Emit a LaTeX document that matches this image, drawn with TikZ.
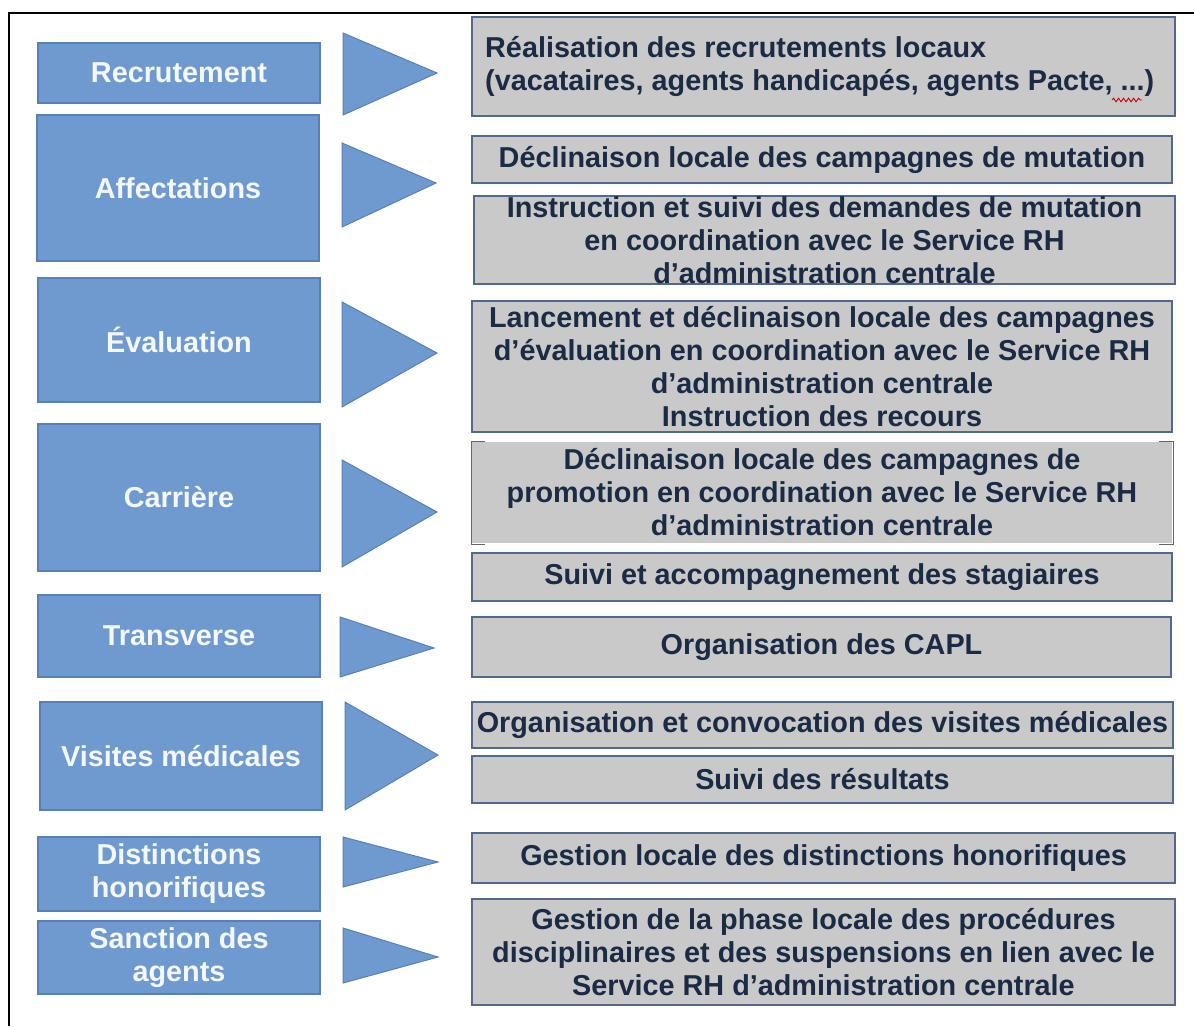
\documentclass[tikz,border=0pt]{standalone}
\usepackage{fontspec}
\setmainfont{Liberation Sans}
\usetikzlibrary{decorations.pathmorphing}
\definecolor{lfill}{RGB}{111,154,208}
\definecolor{ledge}{RGB}{88,128,184}
\definecolor{rfill}{RGB}{201,201,201}
\definecolor{redge}{RGB}{82,104,140}
\definecolor{rtext}{RGB}{28,43,69}
\definecolor{ltext}{RGB}{244,247,252}
\tikzset{
  lbox/.style={draw=ledge, fill=lfill, line width=1.5pt, inner sep=0pt, text=ltext,
    align=center, minimum width=282pt,
    font=\fontsize{28.8}{33}\selectfont\bfseries},
  rbox/.style={draw=redge, fill=rfill, line width=2pt, inner sep=0pt, text=rtext,
    align=center, font=\fontsize{28.8}{33}\selectfont\bfseries},
  rtxt/.style={inner sep=0pt, text=rtext, align=left, font=\fontsize{28.8}{33}\selectfont\bfseries},
  tri/.style={draw=ledge, fill=lfill, line width=1pt, line join=miter},
  frame/.style={draw=black, line width=1.5pt}
}
\begin{document}
\begin{tikzpicture}[x=1pt,y=-1pt]
\useasboundingbox (0,0) rectangle (1194,1026);
\fill[white] (0,0) rectangle (1194,1026);
\coordinate (fa) at (9,1026);
\coordinate (fb) at (9,13);
\coordinate (fc) at (1194,13);
\draw[frame] (fa) -- (fb) -- (fc);

% left boxes
\node[lbox, minimum height=60pt]  (l1) at (179,73)    {Recrutement};
\node[lbox, minimum height=146pt] (l2) at (178,188)   {Affectations};
\node[lbox, minimum height=124pt] (l3) at (179,340)   {Évaluation};
\node[lbox, minimum height=147pt] (l4) at (179,497.5) {Carrière};
\node[lbox, minimum height=82pt]  (l5) at (179,636)   {Transverse};
\node[lbox, minimum height=108pt] (l6) at (181,756)   {Visites médicales};
\node[lbox, minimum height=74pt]  (l7) at (179,874)   {Distinctions\\honorifiques};
\node[lbox, minimum height=73pt]  (l8) at (179,957.5) {Sanction des\\agents};

% triangles
\draw[tri] (343,33) -- (437,73) -- (343,115) -- cycle;
\draw[tri] (342,143) -- (436,183) -- (342,227) -- cycle;
\draw[tri] (342,302) -- (437,353) -- (342,407) -- cycle;
\draw[tri] (342,460) -- (437,512) -- (342,567) -- cycle;
\draw[tri] (340,617) -- (434,648) -- (340,677) -- cycle;
\draw[tri] (345,702) -- (438,755) -- (345,810) -- cycle;
\draw[tri] (343,837) -- (438,862) -- (343,887) -- cycle;
\draw[tri] (343,928) -- (438,957) -- (343,983) -- cycle;

% right boxes
\node[rbox, minimum width=703pt, minimum height=99pt] (r1) at (823.5,66.5) {};
\node[rtxt, anchor=west] (r1t) at ([xshift=14pt]r1.west)
  {Réalisation des recrutements locaux\\(vacataires, agents handicapés, agents Pacte, ...)};
\node[rbox, minimum width=700pt, minimum height=47pt] (r2) at (822,159.5)
  {Déclinaison locale des campagnes de mutation};
\node[rbox, minimum width=701pt, minimum height=88pt] (r3) at (824.5,240)
  {Instruction et suivi des demandes de mutation\\en coordination avec le Service RH\\d'administration centrale};
\node[rbox, minimum width=700pt, minimum height=131pt] (r4) at (822,366.5)
  {Lancement et déclinaison locale des campagnes\\d'évaluation en coordination avec le Service RH\\d'administration centrale\\Instruction des recours};
\node[rbox, draw=none, minimum width=700pt, minimum height=101pt] (r5) at (822,492.5)
  {Déclinaison locale des campagnes de\\promotion en coordination avec le Service RH\\d'administration centrale};
\draw[line width=1pt, draw=black!60] ([xshift=14pt]r5.north west) -- (r5.north west) -- (r5.south west) -- ([xshift=14pt]r5.south west);
\draw[line width=1pt, draw=black!60] ([xshift=-14pt]r5.north east) -- (r5.north east) -- (r5.south east) -- ([xshift=-14pt]r5.south east);
\node[rbox, minimum width=700pt, minimum height=48pt] (r6) at (822,577)
  {Suivi et accompagnement des stagiaires};
\node[rbox, minimum width=699pt, minimum height=60pt] (r7) at (821.5,647)
  {Organisation des CAPL};
\node[rbox, minimum width=701pt, minimum height=46pt] (r8) at (822.5,725)
  {Organisation et convocation des visites médicales};
\node[rbox, minimum width=701pt, minimum height=47pt] (r9) at (822.5,779.5)
  {Suivi des résultats};
\node[rbox, minimum width=703pt, minimum height=50pt] (r10) at (823.5,858)
  {Gestion locale des distinctions honorifiques};
\node[rbox, minimum width=703pt, minimum height=106pt] (r11) at (823.5,952)
  {Gestion de la phase locale des procédures\\disciplinaires et des suspensions en lien avec le\\Service RH d'administration centrale};

% spell-check squiggle
\coordinate (sq1) at (1112,100);
\coordinate (sq2) at (1142,100);
\draw[red!80!black, line width=0.9pt, decorate, decoration={snake, amplitude=1.8pt, segment length=5pt}] (sq1) -- (sq2);
\end{tikzpicture}
\end{document}
